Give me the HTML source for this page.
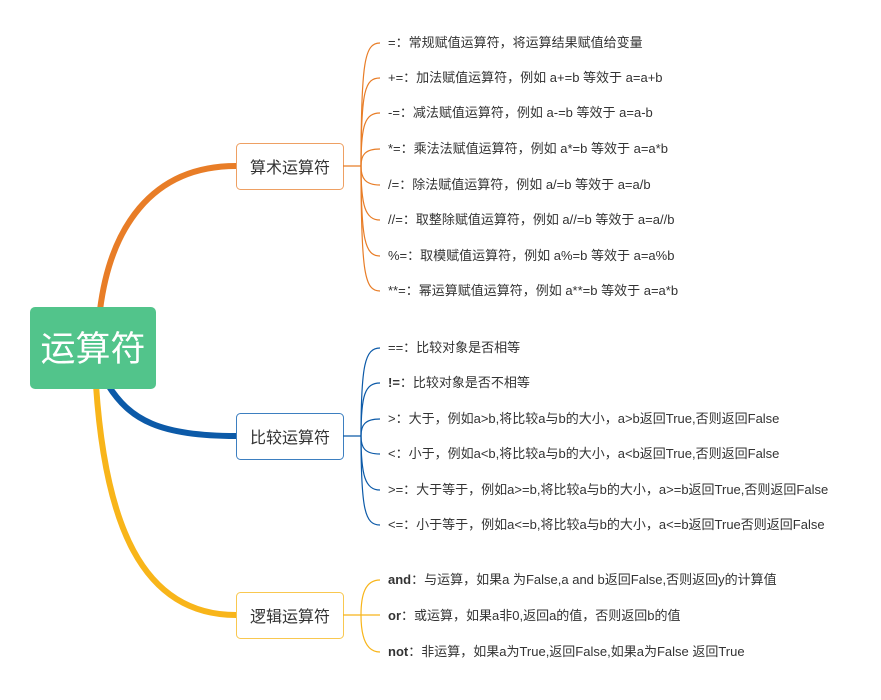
<!DOCTYPE html>
<html><head><meta charset="utf-8"><style>
body{margin:0;background:#fff;}
svg text{font-family:"Liberation Sans","Noto Sans CJK SC",sans-serif;}
</style></head><body>
<svg width="881" height="695" viewBox="0 0 881 695" xmlns="http://www.w3.org/2000/svg">
<path d="M100 310 C110 230 150 166 236 166" stroke="#e87d27" stroke-width="6" fill="none" stroke-linecap="round"/>
<path d="M108 385 C130 420 160 436 236 436" stroke="#0c5aa8" stroke-width="6" fill="none" stroke-linecap="round"/>
<path d="M96 385 C105 520 140 615 236 615" stroke="#f8b51a" stroke-width="6" fill="none" stroke-linecap="round"/>
<rect x="30" y="307" width="126" height="82" rx="5" fill="#52c48b"/>
<text x="93" y="361" font-size="35" fill="#fff" text-anchor="middle">运算符</text>
<rect x="236.5" y="143.5" width="107" height="46" rx="4" fill="#fff" stroke="#eea063"/>
<text x="290" y="173" font-size="16" fill="#333" text-anchor="middle">算术运算符</text>
<rect x="236.5" y="413.5" width="107" height="46" rx="4" fill="#fff" stroke="#3d7fc0"/>
<text x="290" y="443" font-size="16" fill="#333" text-anchor="middle">比较运算符</text>
<rect x="236.5" y="592.5" width="107" height="46" rx="4" fill="#fff" stroke="#f9c850"/>
<text x="290" y="622" font-size="16" fill="#333" text-anchor="middle">逻辑运算符</text>
<g fill="none" stroke-width="1.2">
<g stroke="#e87d27">
<path d="M343 166 H361"/>
<path d="M361 166 C361 60 365 43 380 43"/><path d="M361 166 C361 90 365 78 380 78"/>
<path d="M361 166 C361 125 365 113 380 113"/><path d="M361 166 C361 155 365 149 380 149"/>
<path d="M361 166 C361 178 365 185 380 185"/><path d="M361 166 C361 205 365 220 380 220"/>
<path d="M361 166 C361 240 365 256 380 256"/><path d="M361 166 C361 275 365 291 380 291"/>
</g>
<g stroke="#0c5aa8">
<path d="M343 436 H361"/>
<path d="M361 436 C361 365 365 348 380 348"/><path d="M361 436 C361 395 365 383 380 383"/>
<path d="M361 436 C361 425 365 419 380 419"/><path d="M361 436 C361 448 365 454 380 454"/>
<path d="M361 436 C361 475 365 490 380 490"/><path d="M361 436 C361 510 365 525 380 525"/>
</g>
<g stroke="#f8b51a">
<path d="M343 615 H380"/>
<path d="M361 615 C361 595 365 580 380 580"/><path d="M361 615 C361 635 365 652 380 652"/>
</g>
</g>
<g font-size="13" fill="#333">
<text x="388" y="47">=：常规赋值运算符，将运算结果赋值给变量</text>
<text x="388" y="82">+=：加法赋值运算符，例如 a+=b 等效于 a=a+b</text>
<text x="388" y="117">-=：减法赋值运算符，例如 a-=b 等效于 a=a-b</text>
<text x="388" y="153">*=：乘法法赋值运算符，例如 a*=b 等效于 a=a*b</text>
<text x="388" y="189">/=：除法赋值运算符，例如 a/=b 等效于 a=a/b</text>
<text x="388" y="224">//=：取整除赋值运算符，例如 a//=b 等效于 a=a//b</text>
<text x="388" y="260">%=：取模赋值运算符，例如 a%=b 等效于 a=a%b</text>
<text x="388" y="295">**=：幂运算赋值运算符，例如 a**=b 等效于 a=a*b</text>
<text x="388" y="352">==：比较对象是否相等</text>
<text x="388" y="387"><tspan font-weight="bold">!=</tspan>：比较对象是否不相等</text>
<text x="388" y="423">&gt;：大于，例如a&gt;b,将比较a与b的大小，a&gt;b返回True,否则返回False</text>
<text x="388" y="458">&lt;：小于，例如a&lt;b,将比较a与b的大小，a&lt;b返回True,否则返回False</text>
<text x="388" y="494">&gt;=：大于等于，例如a&gt;=b,将比较a与b的大小，a&gt;=b返回True,否则返回False</text>
<text x="388" y="529">&lt;=：小于等于，例如a&lt;=b,将比较a与b的大小，a&lt;=b返回True否则返回False</text>
<text x="388" y="584"><tspan font-weight="bold">and</tspan>：与运算，如果a 为False,a and b返回False,否则返回y的计算值</text>
<text x="388" y="620"><tspan font-weight="bold">or</tspan>：或运算，如果a非0,返回a的值，否则返回b的值</text>
<text x="388" y="656"><tspan font-weight="bold">not</tspan>：非运算，如果a为True,返回False,如果a为False 返回True</text>
</g>
</svg>
</body></html>
